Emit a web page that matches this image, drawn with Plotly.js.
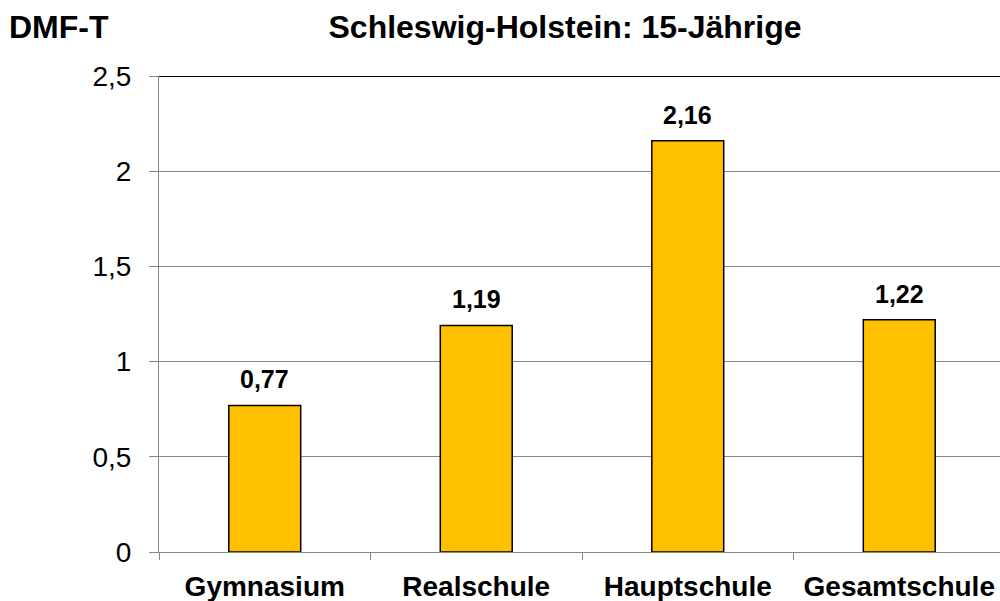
<!DOCTYPE html>
<html><head><meta charset="utf-8">
<script src="https://cdn.plot.ly/plotly-3.0.1.min.js"></script>
<style>html,body{margin:0;padding:0;overflow:hidden;background:#fff}#chart{width:1006px;height:601px}</style>
</head><body><div id="chart"></div>
<script>
const categories = ["Gymnasium", "Realschule", "Hauptschule", "Gesamtschule"];
const values = [0.77, 1.19, 2.16, 1.22];
const yTicks = [0, 0.5, 1, 1.5, 2, 2.5];
const chartTitle = "Schleswig-Holstein: 15-Jährige";
const yLabel = "DMF-T";

const font = "Liberation Sans, Arial, sans-serif";
const fmt = v => v.toFixed(2).replace(".", ",");
Plotly.newPlot("chart", [{
  type: "bar",
  x: categories,
  y: values,
  width: 0.34,
  marker: {color: "#FFC000", line: {color: "#000000", width: 1.5}},
  hoverinfo: "skip"
}], {
  width: 1006, height: 601,
  margin: {l: 159, r: 1, t: 76, b: 49, pad: 0},
  separators: ", ",
  paper_bgcolor: "#fff", plot_bgcolor: "#fff",
  showlegend: false,
  title: {text: "<b>" + chartTitle + "</b>", font: {family: font, size: 32, color: "#000"},
          x: 565/1006, xanchor: "center", xref: "container", y: 1 - 27/601, yanchor: "middle", yref: "container"},
  xaxis: {
    type: "category", range: [-0.5, 3.5],
    showline: true, linecolor: "#868686", linewidth: 1,
    ticks: "outside", tickson: "boundaries", ticklen: 7, tickcolor: "#868686", tickwidth: 1,
    tickfont: {family: font, size: 28, color: "#000"},
    tickvals: categories, ticktext: categories.map(c => "<b>" + c + "</b>"),
    ticklabelstandoff: 9,
    showgrid: false, zeroline: false, fixedrange: true
  },
  yaxis: {
    range: [0, 2.5], tickvals: yTicks,
    showline: true, linecolor: "#868686", linewidth: 1,
    ticks: "outside", ticklen: 9, tickcolor: "#868686", tickwidth: 1,
    tickfont: {family: font, size: 28, color: "#000"},
    ticklabelstandoff: 12,
    showgrid: true, gridcolor: "#868686", gridwidth: 1,
    zeroline: false, fixedrange: true
  },
  shapes: [{type: "line", xref: "paper", yref: "y", x0: 0, x1: 1, y0: 2.5, y1: 2.5,
            line: {color: "#000", width: 2}}],
  annotations: [{text: "<b>" + yLabel + "</b>", xref: "paper", yref: "paper",
                 x: (7-159)/846, xanchor: "left", y: (552-27)/476, yanchor: "middle",
                 showarrow: false, font: {family: font, size: 32, color: "#000"}}]
    .concat(categories.map((c, i) => ({
      text: "<b>" + fmt(values[i]) + "</b>", x: c, y: values[i], xref: "x", yref: "y",
      xanchor: "center", yanchor: "bottom", yshift: 10, showarrow: false,
      font: {family: font, size: 25, color: "#000"}
    })))
}, {staticPlot: true, displayModeBar: false});
</script></body></html>
